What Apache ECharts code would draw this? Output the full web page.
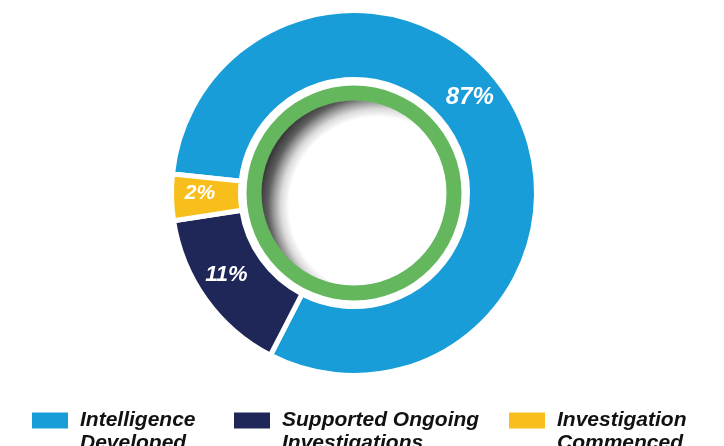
<!DOCTYPE html>
<html>
<head>
<meta charset="utf-8">
<script src="https://cdn.jsdelivr.net/npm/echarts@6/dist/echarts.min.js"></script>
<style>
html,body{margin:0;padding:0;background:#ffffff;}
#chart{width:724px;height:446px;}
</style>
</head>
<body>
<div id="chart"></div>
<script>
// Categories (legend order)
var categories = ['Intelligence Developed', 'Supported Ongoing Investigations', 'Investigation Commenced'];
// Percentages printed on the slices
var percentLabels = [87, 11, 2];
// Arc shares as drawn in the picture (degrees of the ring converted to %)
var arcShares = [80.9, 15.0, 4.1];

// styling (kept apart from data)
var colors = ['#199dd8', '#1e2757', '#f8be1b'];
var labelSizes = [24, 22, 21];
var labelShift = [[-17, -24], [-5, -6], [-3, -3]];

var chart = echarts.init(document.getElementById('chart'), null, {renderer: 'canvas'});
var center = [354, 193];
var font = "'Liberation Sans', Arial, Helvetica, sans-serif";

function legendFor(i, left) {
  return {
    data: [categories[i]],
    left: left,
    top: 386,
    padding: 0,
    orient: 'horizontal',
    icon: 'rect',
    itemWidth: 38,
    itemHeight: 18,
    selectedMode: false,
    formatter: function (name) {
      var k = name.lastIndexOf(' ');
      return '\n' + name.slice(0, k) + '\n' + name.slice(k + 1);
    },
    textStyle: {
      fontFamily: font,
      fontSize: 21,
      fontWeight: 'bold',
      fontStyle: 'italic',
      color: '#111111',
      lineHeight: 23,
      padding: [0, 0, 0, 6]
    }
  };
}

var mainData = categories.map(function (name, i) {
  return {
    name: name,
    value: arcShares[i],
    itemStyle: {color: colors[i]},
    label: {
      formatter: percentLabels[i] + '%',
      fontSize: labelSizes[i]
    }
  };
});

var option = {
  animation: false,
  backgroundColor: '#ffffff',
  legend: [legendFor(0, 30), legendFor(1, 232), legendFor(2, 507)],
  series: [
    {
      type: 'pie',
      name: 'main',
      center: center,
      radius: [113.5, 182.5],
      startAngle: 174,
      clockwise: true,
      avoidLabelOverlap: false,
      silent: true,
      itemStyle: {borderColor: '#ffffff', borderWidth: 5},
      label: {
        show: true,
        position: 'inside',
        color: '#ffffff',
        fontFamily: font,
        fontWeight: 'bold',
        fontStyle: 'italic'
      },
      labelLine: {show: false},
      labelLayout: function (p) {
        var s = labelShift[p.dataIndex] || [0, 0];
        return {dx: s[0], dy: s[1]};
      },
      data: mainData
    },
    {
      type: 'pie',
      name: 'ring',
      center: center,
      radius: [92, 107.5],
      silent: true,
      label: {show: false},
      labelLine: {show: false},
      itemStyle: {color: '#65b75e'},
      data: [{name: 'ring', value: 1}]
    },
    {
      type: 'pie',
      name: 'hole',
      center: center,
      radius: [0, 92.5],
      silent: true,
      label: {show: false},
      labelLine: {show: false},
      itemStyle: {
        color: {
          type: 'radial', x: 0.63, y: 0.57, r: 0.64,
          colorStops: [
            {offset: 0, color: '#ffffff'},
            {offset: 0.75, color: '#ffffff'},
            {offset: 0.82, color: '#dadada'},
            {offset: 0.88, color: '#9a9a9a'},
            {offset: 0.93, color: '#5e5e5e'},
            {offset: 1, color: '#3a3a3a'}
          ]
        }
      },
      data: [{name: 'hole', value: 1}]
    }
  ]
};
chart.setOption(option);
</script>
</body>
</html>
